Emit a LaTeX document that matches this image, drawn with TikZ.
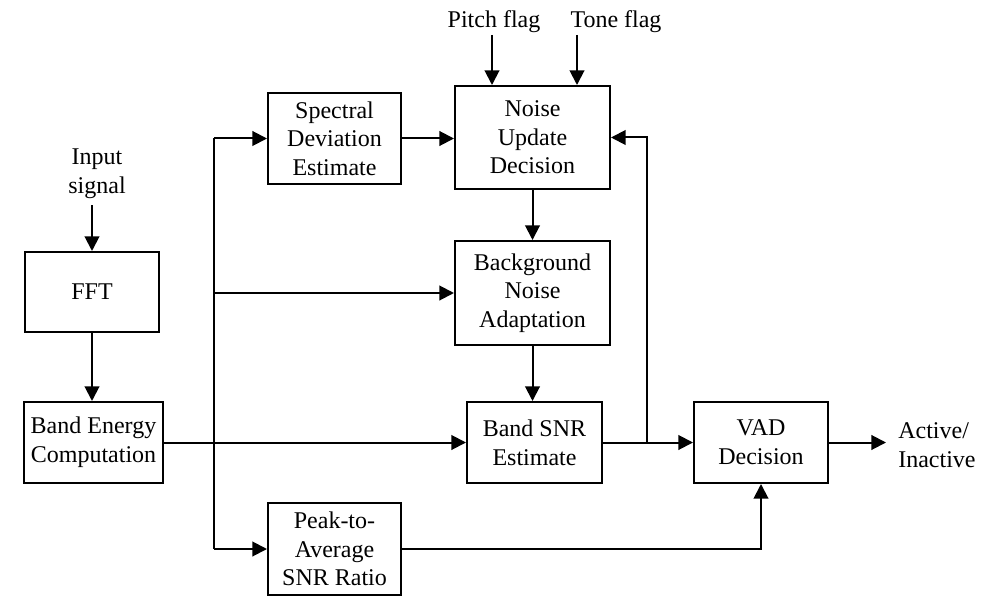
\documentclass[tikz,border=0pt]{standalone}
\usepackage{fontspec}
\setmainfont{Liberation Serif}
\usetikzlibrary{arrows.meta}
\begin{document}
\begin{tikzpicture}[x=0.75pt,y=-0.75pt,
  blk/.style={draw, line width=1.5pt, inner sep=0pt, align=center},
  lbl/.style={inner sep=0pt, align=center},
  conn/.style={line width=1.5pt},
  arr/.style={conn, -{Triangle[length=11pt,width=11pt]}},
  every node/.append style={font=\fontsize{18}{21.5}\selectfont}]
\useasboundingbox (0,0) rectangle (1006,613);
\node[blk, minimum width=100.5pt, minimum height=60pt] (fft) at (92,292) {FFT};
\node[blk, minimum width=104.25pt, minimum height=60.75pt] (bec) at (93.5,442.5) {Band Energy\\Computation};
\node[blk, minimum width=99.75pt, minimum height=68.25pt] (sde) at (334.5,138.5) {Spectral\\Deviation\\Estimate};
\node[blk, minimum width=116.25pt, minimum height=77.25pt] (nud) at (532.5,137.5) {Noise\\Update\\Decision};
\node[blk, minimum width=116.25pt, minimum height=78pt] (bna) at (532.5,293) {Background\\Noise\\Adaptation};
\node[blk, minimum width=101.25pt, minimum height=60.75pt] (snr) at (534.5,442.5) {Band SNR\\Estimate};
\node[blk, minimum width=100.5pt, minimum height=60.75pt] (vad) at (761,442.5) {VAD\\Decision};
\node[blk, minimum width=99.75pt, minimum height=69pt] (par) at (334.5,549) {Peak-to-\\Average\\SNR Ratio};
\node[lbl] (inp) at (97,174) {Input\\signal};
\node[lbl] (pitch) at (494,22) {Pitch flag};
\node[lbl] (tone) at (616,22) {Tone flag};
\node[lbl, anchor=west, align=left] (act) at (898,445) {Active/\\Inactive};
\coordinate (inc) at (92,205);
\coordinate (pc) at (492,35);
\coordinate (tc) at (577,35);
\coordinate (btop) at (214,138.5);
\coordinate (bbot) at (214,549);
\coordinate (fb) at (647,442.5);
\coordinate (outc) at (886,442.5);
% connectors
\draw[arr] (inc) -- (inc |- fft.north);
\draw[arr] (fft.south) -- (fft.south |- bec.north);
\draw[arr] (bec.east) -- (snr.west);
\draw[conn] (btop) -- (bbot);
\draw[arr] (btop) -- (sde.west);
\draw[arr] (btop |- bna.west) -- (bna.west);
\draw[arr] (bbot) -- (par.west);
\draw[arr] (sde.east) -- (sde.east -| nud.west);
\draw[arr] (pc) -- (pc |- nud.north);
\draw[arr] (tc) -- (tc |- nud.north);
\draw[arr] (nud.south) -- (bna.north);
\draw[arr] (bna.south) -- (bna.south |- snr.north);
\draw[arr] (snr.east) -- (vad.west);
\draw[arr] (fb) |- (nud.east);
\draw[arr] (par.east) -| (vad.south);
\draw[arr] (vad.east) -- (outc);
\end{tikzpicture}
\end{document}
